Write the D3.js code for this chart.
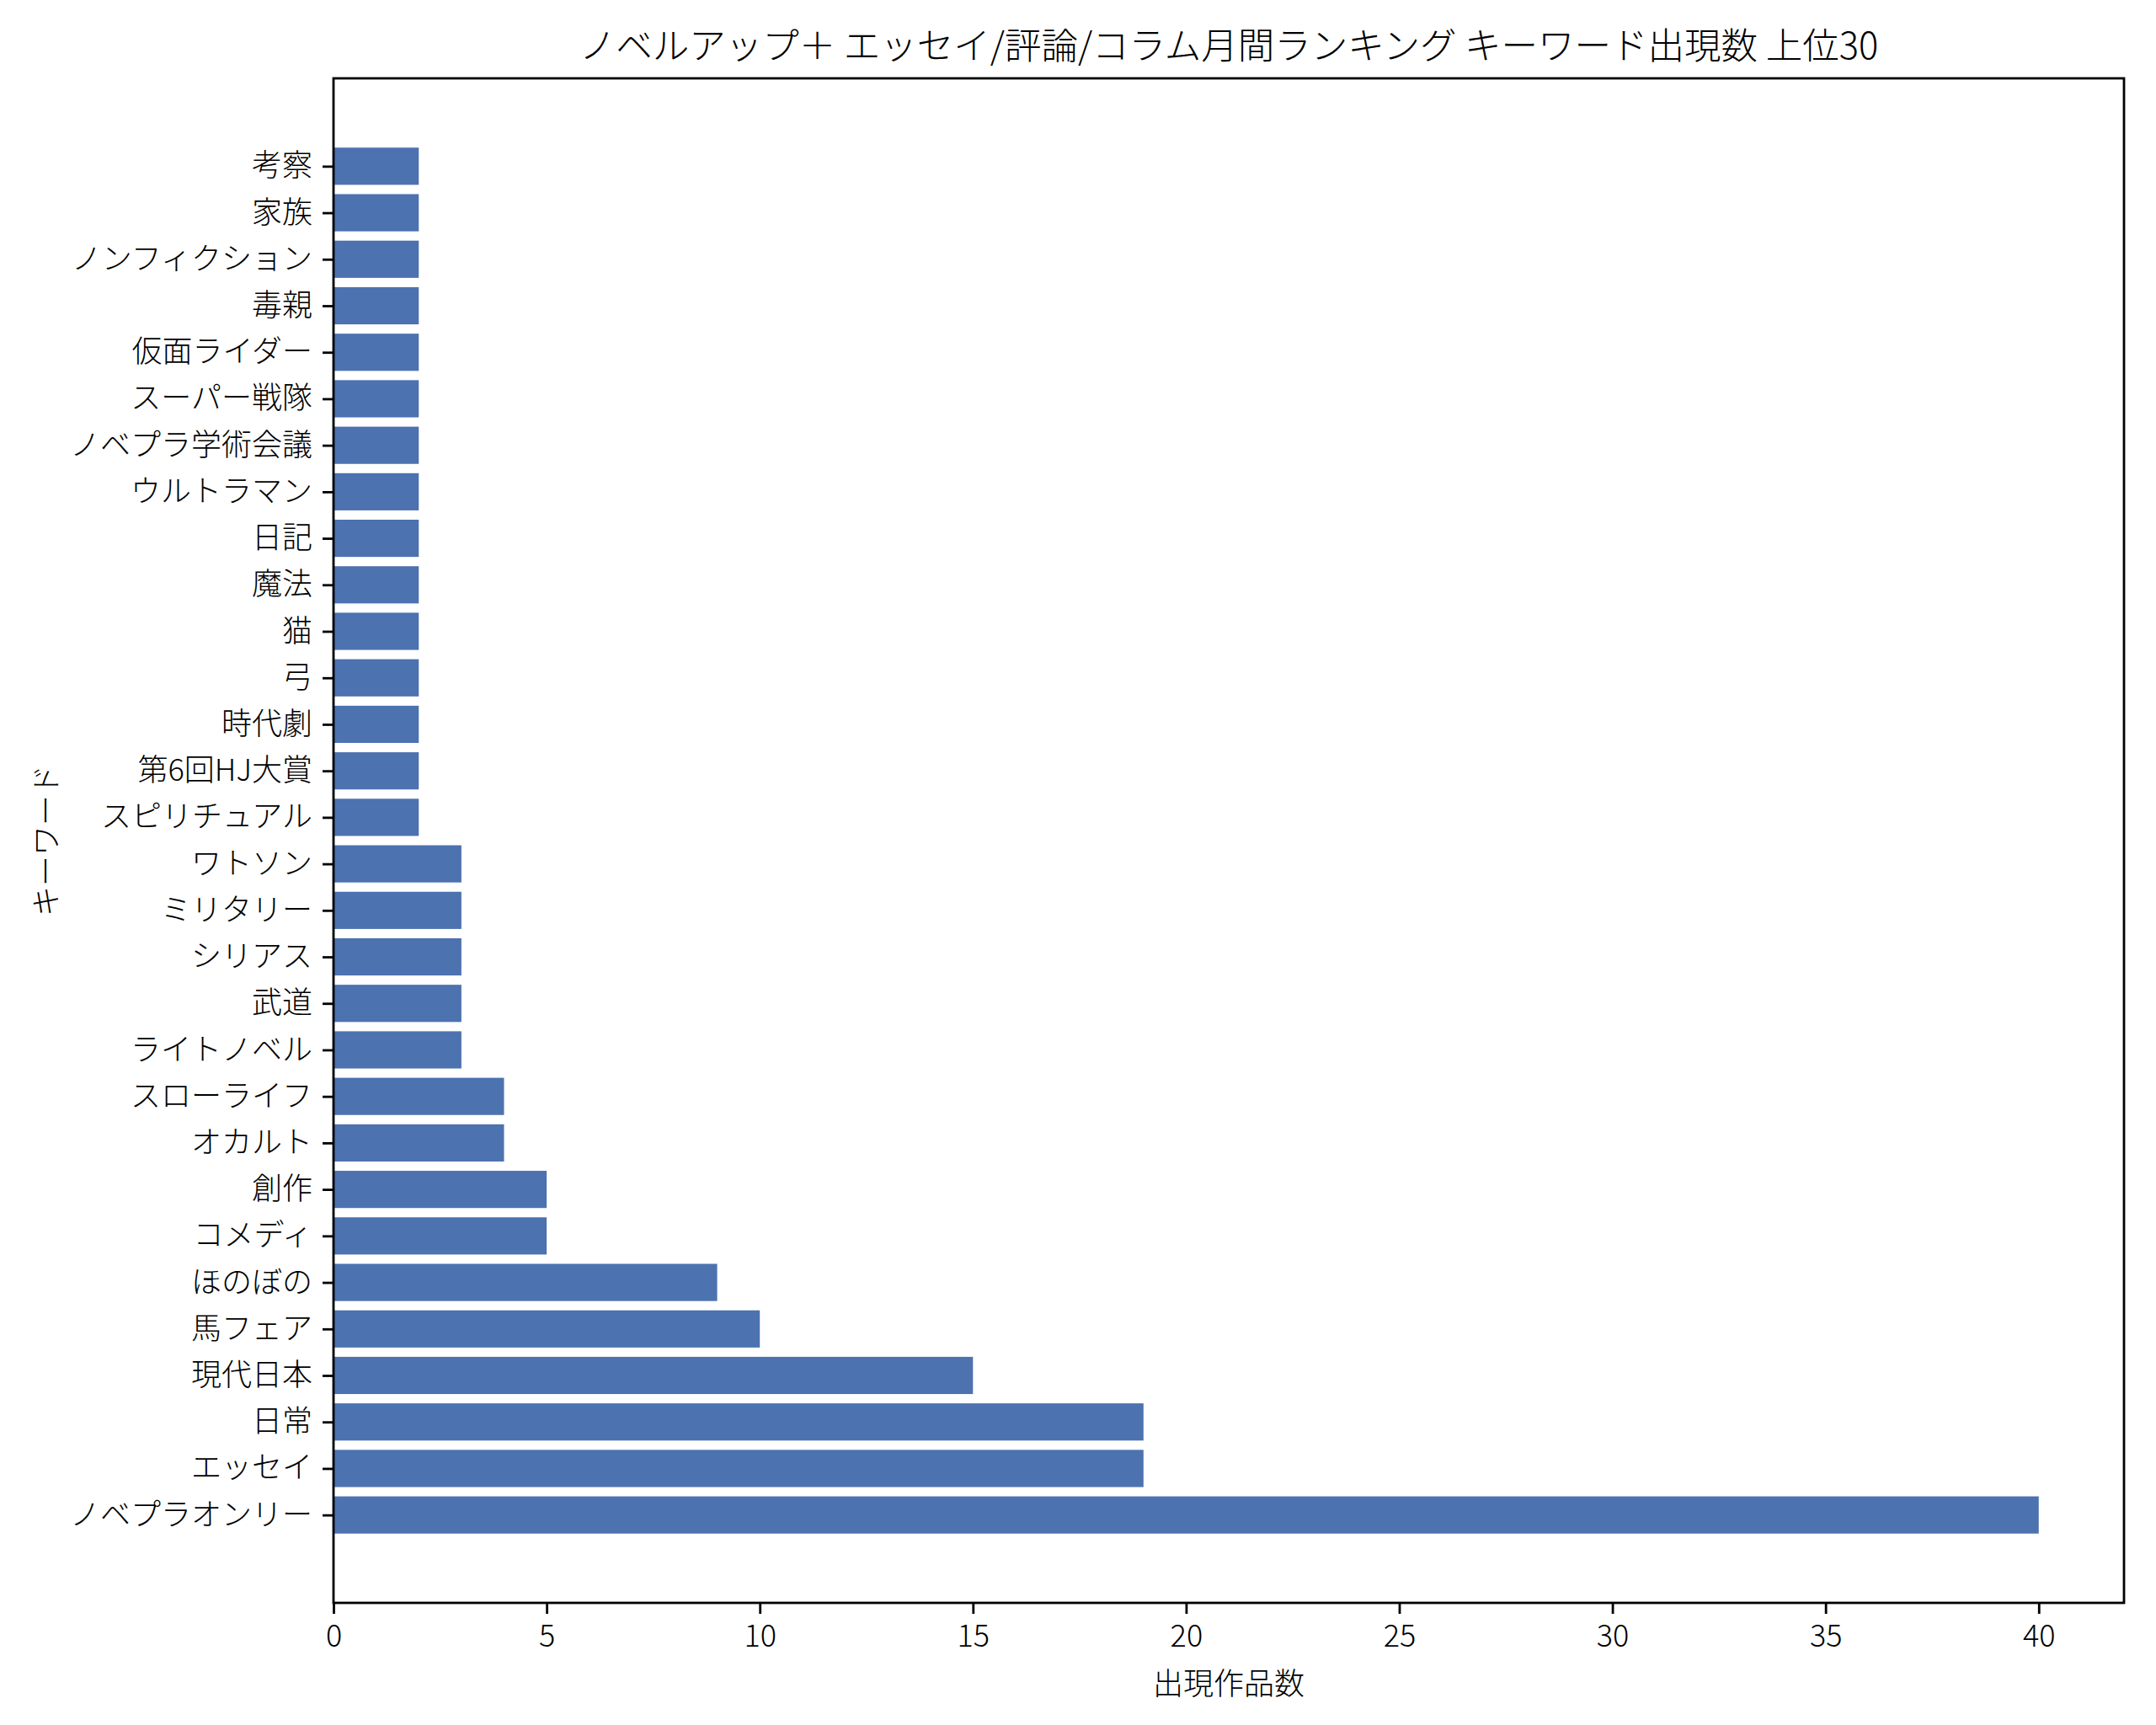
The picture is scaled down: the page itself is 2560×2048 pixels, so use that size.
<!DOCTYPE html>
<html>
<head>
<meta charset="utf-8">
<script src="https://cdn.jsdelivr.net/npm/d3@7"></script>
<style>
body { margin: 0; background: #fff; }
text { font-family: "Noto Sans CJK JP", "Noto Sans", sans-serif; font-weight: 300; fill: #000; }
</style>
</head>
<body>
<div id="chart"></div>
<script>
// keywords, bottom (rank 1) to top
var keywords = ["ノベプラオンリー", "エッセイ", "日常", "現代日本", "馬フェア", "ほのぼの",
    "コメディ", "創作", "オカルト", "スローライフ", "ライトノベル", "武道", "シリアス",
    "ミリタリー", "ワトソン", "スピリチュアル", "第6回HJ大賞", "時代劇", "弓", "猫",
    "魔法", "日記", "ウルトラマン", "ノベプラ学術会議", "スーパー戦隊", "仮面ライダー",
    "毒親", "ノンフィクション", "家族", "考察"];
var counts = [40, 19, 19, 15, 10, 9, 5, 5, 4, 4, 3, 3, 3, 3, 3,
    2, 2, 2, 2, 2, 2, 2, 2, 2, 2, 2, 2, 2, 2, 2];
var xTicks = [0, 5, 10, 15, 20, 25, 30, 35, 40];

var titleText = "ノベルアップ＋ エッセイ/評論/コラム月間ランキング キーワード出現数 上位30";

var width = 2560;
var height = 2048;
var margin = { top: 93, left: 396, bottom: 145, right: 38 };
var innerW = width - margin.left - margin.right;
var innerH = height - margin.top - margin.bottom;

var svg = d3.select('#chart')
            .append('svg')
            .attr('width', width)
            .attr('height', height);

var g = svg.append('g')
           .attr('transform', 'translate(' + margin.left + ',' + margin.top + ')');

var x = d3.scaleLinear()
          .domain([0, 42])
          .range([0, innerW]);

// matplotlib style limits: bars at 0..29, height 0.8, 5% margin
var y = d3.scaleLinear()
          .domain([-1.89, 30.89])
          .range([innerH, 0]);

g.selectAll('.bar')
    .data(counts)
    .enter()
    .append('rect')
    .attr('class', 'bar')
    .attr('x', x(0))
    .attr('y', function (d, i) { return y(i + 0.4); })
    .attr('width', function (d) { return x(d) - x(0); })
    .attr('height', function (d, i) { return y(i - 0.4) - y(i + 0.4); })
    .attr('fill', '#4c72b0');

// x axis
var xAxis = g.append('g')
    .attr('transform', 'translate(0,' + innerH + ')')
    .call(d3.axisBottom(x).tickValues(xTicks).tickSize(13).tickPadding(13));
xAxis.select('.domain').remove();
xAxis.selectAll('line').attr('stroke', '#000').attr('stroke-width', 2.8);
xAxis.selectAll('text')
    .style('font-family', '"Noto Sans CJK JP", sans-serif')
    .style('font-weight', 300)
    .style('font-size', '36px');

// y axis
var yAxis = g.append('g')
    .call(d3.axisLeft(y)
        .tickValues(d3.range(keywords.length))
        .tickFormat(function (d) { return keywords[d]; })
        .tickSize(13).tickPadding(12));
yAxis.select('.domain').remove();
yAxis.selectAll('line').attr('stroke', '#000').attr('stroke-width', 2.8);
yAxis.selectAll('text')
    .style('font-family', '"Noto Sans CJK JP", sans-serif')
    .style('font-weight', 300)
    .style('font-size', '36px');

// frame
g.append('rect')
    .attr('x', 0)
    .attr('y', 0)
    .attr('width', innerW)
    .attr('height', innerH)
    .attr('fill', 'none')
    .attr('stroke', '#000')
    .attr('stroke-width', 2.8);

// title
svg.append('text')
    .attr('x', margin.left + innerW / 2)
    .attr('y', 70)
    .style('font-size', '43.5px')
    .style('text-anchor', 'middle')
    .text(titleText);

// axis labels
svg.append('text')
    .attr('x', margin.left + innerW / 2)
    .attr('y', 2012)
    .style('font-size', '36px')
    .style('text-anchor', 'middle')
    .text('出現作品数');

svg.append('text')
    .attr('transform', 'translate(68,' + (margin.top + innerH / 2) + ') rotate(-90)')
    .style('font-size', '36px')
    .style('text-anchor', 'middle')
    .text('キーワード');
</script>
</body>
</html>
